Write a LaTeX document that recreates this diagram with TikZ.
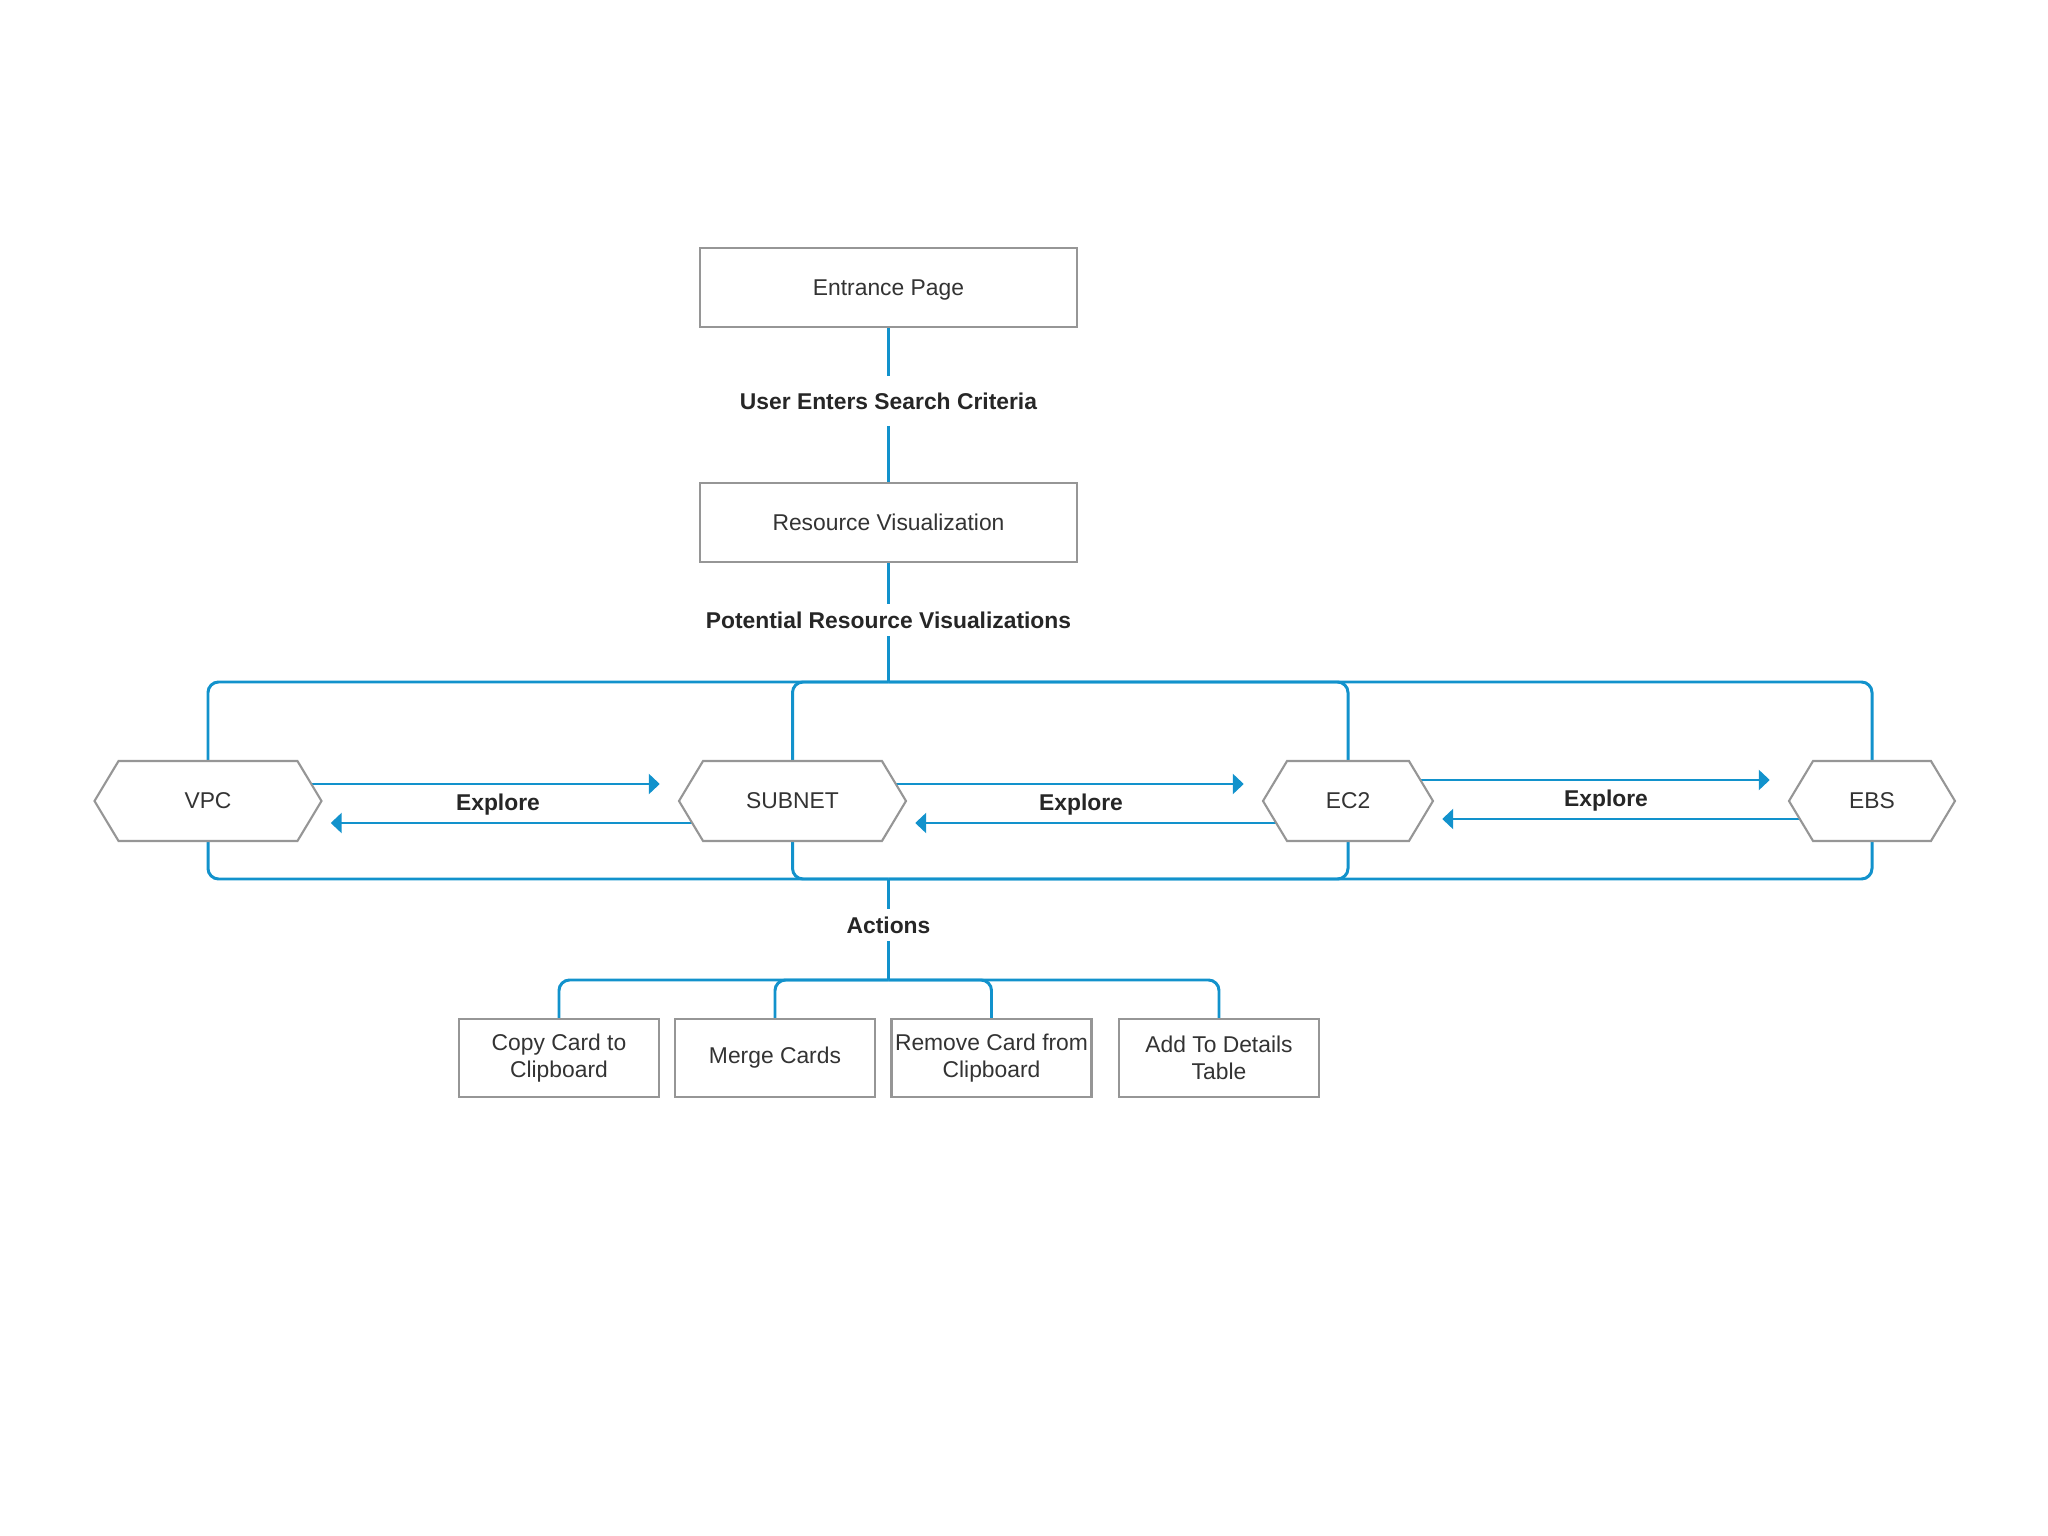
\documentclass[tikz,border=0pt]{standalone}
\usepackage{fontspec}
\setmainfont{Liberation Sans}
\usepackage{tikz}
\usetikzlibrary{shapes}
\usetikzlibrary{arrows.meta}
\usetikzlibrary{backgrounds}
\definecolor{bleu}{RGB}{18,146,204}
\definecolor{bord}{RGB}{150,150,150}
\definecolor{texte}{RGB}{51,51,51}
\tikzstyle{ecran}=[
        draw=bord,
        line width=0.6pt,
        rectangle,
        fill=white,
        minimum width=3.77cm,
        minimum height=0.79cm,
        text height=4.7pt,
        text depth=0pt,
        text=texte,
        font=\fontsize{6.5}{7.7}\selectfont
]
\tikzstyle{tache}=[
        draw=bord,
        line width=0.6pt,
        rectangle,
        fill=white,
        minimum width=2.0cm,
        minimum height=0.78cm,
        align=center,
        inner sep=1pt,
        text=texte,
        font=\fontsize{6.5}{7.7}\selectfont
]
\tikzstyle{ressource}=[
        draw=bord,
        line width=0.6pt,
        signal,
        signal to=east and west,
        signal pointer angle=118,
        fill=white,
        minimum height=0.8cm,
        text=texte,
        font=\fontsize{6.5}{7.7}\selectfont
]
\tikzstyle{etiquette}=[inner sep=2pt,text=black!85,font=\fontsize{6.5}{7.7}\selectfont\bfseries]
\tikzstyle{lien}=[draw=bleu,line width=0.85pt,rounded corners=3pt]
\tikzstyle{suite}=[lien,rounded corners=0pt,-{Triangle[length=0.11cm,width=0.2cm]}]
\begin{document}
\begin{tikzpicture}
\useasboundingbox (0,0) rectangle (20.48,-15.36);
\node[ecran] (entree) at (8.885,-2.875) {Entrance Page};
\node[etiquette,inner ysep=4.5pt] (recherche) at (8.885,-4.01) {User Enters Search Criteria};
\node[ecran] (visu) at (8.885,-5.225) {Resource Visualization};
\node[etiquette] (potentiel) at (8.885,-6.20) {Potential Resource Visualizations};
\coordinate (haut) at (8.885,-6.82);
\node[ressource,minimum width=2.27cm] (vpc) at (2.08,-8.01) {VPC};
\node[ressource,minimum width=2.27cm] (subnet) at (7.925,-8.01) {SUBNET};
\node[ressource,minimum width=1.70cm] (ec2) at (13.48,-8.01) {EC2};
\node[ressource,minimum width=1.66cm] (ebs) at (18.72,-8.01) {EBS};
\node[etiquette] (explore1) at (4.98,-8.05) {Explore};
\node[etiquette] (explore2) at (10.81,-8.05) {Explore};
\node[etiquette] (explore3) at (16.06,-8.01) {Explore};
\coordinate (bas) at (8.885,-8.79);
\node[etiquette] (actions) at (8.885,-9.25) {Actions};
\coordinate (actbas) at (8.885,-9.80);
\node[tache] (copie) at (5.59,-10.58) {Copy Card to\\Clipboard};
\node[tache] (fusion) at (7.75,-10.58) {Merge Cards};
\node[tache] (retrait) at (9.915,-10.58) {Remove Card from\\Clipboard};
\node[tache] (ajout) at (12.19,-10.58) {Add To Details\\Table};
%liens
\begin{scope}[on background layer]
\draw[lien] (entree) -- (recherche);
\draw[lien] (recherche) -- (visu);
\draw[lien] (visu) -- (potentiel);
\draw[lien] (potentiel) -- (haut);
\draw[lien] (haut) -| (vpc);
\draw[lien] (haut) -| (subnet);
\draw[lien] (haut) -| (ec2);
\draw[lien] (haut) -| (ebs);
\draw[lien] (vpc) |- (bas);
\draw[lien] (subnet) |- (bas);
\draw[lien] (ec2) |- (bas);
\draw[lien] (ebs) |- (bas);
\draw[lien] (bas) -- (actions);
\draw[lien] (actions) -- (actbas);
\draw[lien] (actbas) -| (copie);
\draw[lien] (actbas) -| (fusion);
\draw[lien] (actbas) -| (retrait);
\draw[lien] (actbas) -| (ajout);
%explore
\draw[suite] ([yshift=0.17cm]vpc.center) -- ([yshift=0.17cm,xshift=-0.18cm]subnet.west);
\draw[suite] ([yshift=-0.22cm]subnet.center) -- ([yshift=-0.22cm,xshift=0.08cm]vpc.east);
\draw[suite] ([yshift=0.17cm]subnet.center) -- ([yshift=0.17cm,xshift=-0.18cm]ec2.west);
\draw[suite] ([yshift=-0.22cm]ec2.center) -- ([yshift=-0.22cm,xshift=0.08cm]subnet.east);
\draw[suite] ([yshift=0.21cm]ec2.center) -- ([yshift=0.21cm,xshift=-0.18cm]ebs.west);
\draw[suite] ([yshift=-0.18cm]ebs.center) -- ([yshift=-0.18cm,xshift=0.08cm]ec2.east);
\end{scope}
\end{tikzpicture}
\end{document}
